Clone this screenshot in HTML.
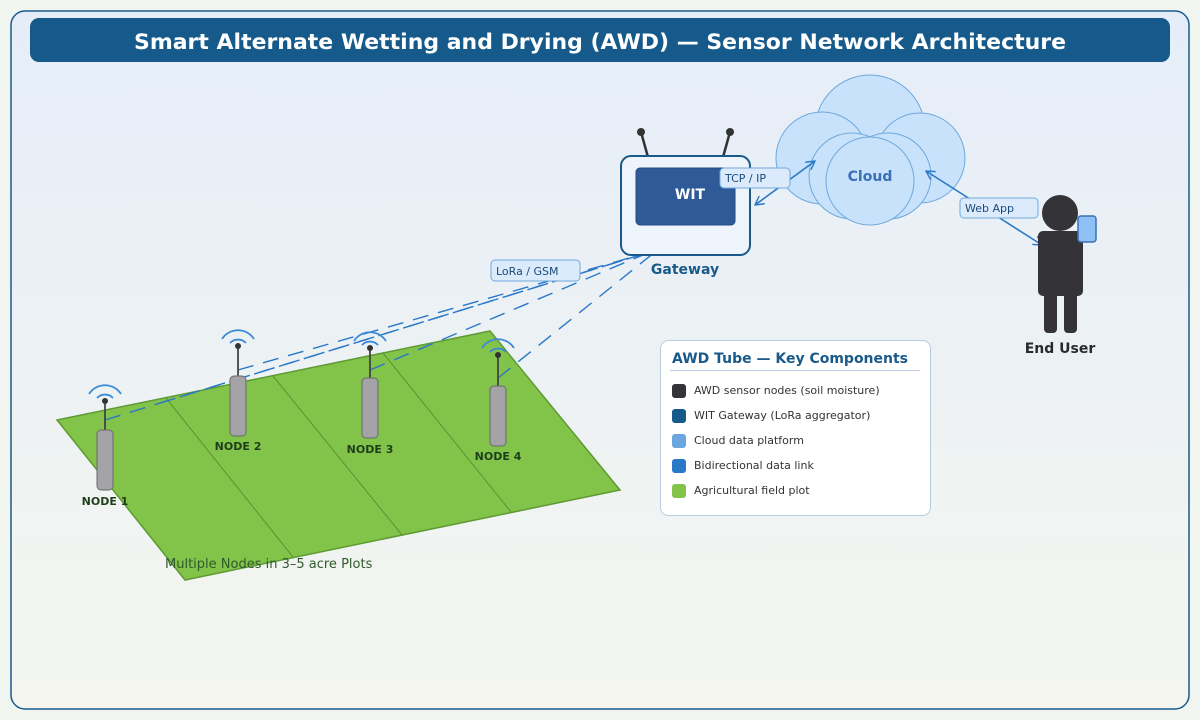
<!DOCTYPE html>
<html><head><meta charset="utf-8"><style>
html,body{margin:0;padding:0;width:1200px;height:720px;overflow:hidden;background:#f1f5f0}
svg{display:block;font-family:"DejaVu Sans","Liberation Sans",sans-serif}
</style></head><body>
<svg width="1200" height="720" viewBox="0 0 1200 720" xmlns="http://www.w3.org/2000/svg">
<defs>
<linearGradient id="bg" x1="0" y1="0" x2="0" y2="1"><stop offset="0" stop-color="#e5edf9"/><stop offset="1" stop-color="#f4f6ef"/></linearGradient>
<marker id="ar" markerWidth="10" markerHeight="10" refX="9" refY="5" orient="auto-start-reverse" markerUnits="userSpaceOnUse"><path d="M0,0 L9,5 L0,10" fill="none" stroke="#2a78c8" stroke-width="1.4"/></marker>
</defs>
<rect x="0" y="0" width="1200" height="720" fill="#f1f5f0"/>
<rect x="11" y="11" width="1178" height="698" rx="14" fill="url(#bg)" stroke="#1a5a8a" stroke-width="1.5"/>
<rect x="30" y="18" width="1140" height="44" rx="9" fill="#155a8a"/>
<text x="600" y="49" text-anchor="middle" fill="#fff" font-size="21" font-weight="bold" textLength="932" lengthAdjust="spacingAndGlyphs">Smart Alternate Wetting and Drying (AWD) — Sensor Network Architecture</text>

<polygon points="57,420 490,331 620,490 185,580" fill="#82c34a" stroke="#5f9a33" stroke-width="1.5"/>
<g stroke="#4f7f2a" stroke-width="0.7"><line x1="166" y1="398" x2="293" y2="557"/><line x1="273" y1="376" x2="402" y2="535"/><line x1="383" y1="353" x2="511" y2="512"/></g>
<text x="165" y="568" font-size="13" fill="#2f5a2a">Multiple Nodes in 3–5 acre Plots</text>

<g stroke="#2a78c8" stroke-width="1.4" stroke-dasharray="16,10" fill="none">
<line x1="105" y1="420" x2="650" y2="252"/>
<line x1="160" y1="403" x2="650" y2="252"/>
<line x1="238" y1="370" x2="650" y2="252"/>
<line x1="370" y1="370" x2="650" y2="252"/>
<line x1="498" y1="378" x2="655" y2="252"/>
</g>
<line x1="656" y1="237" x2="675" y2="249" stroke="#2a78c8" stroke-width="1.4" marker-end="url(#ar)"/>

<g stroke="#444" stroke-width="1.8"><line x1="105" y1="401" x2="105" y2="432"/><line x1="238" y1="346" x2="238" y2="378"/><line x1="370" y1="348" x2="370" y2="380"/><line x1="498" y1="355" x2="498" y2="388"/></g>
<g fill="#a3a3a8" stroke="#6a6a6a" stroke-width="1"><rect x="97" y="430" width="16" height="60" rx="4"/><rect x="230" y="376" width="16" height="60" rx="4"/><rect x="362" y="378" width="16" height="60" rx="4"/><rect x="490" y="386" width="16" height="60" rx="4"/></g>
<g fill="#333"><circle cx="105" cy="401" r="3"/><circle cx="238" cy="346" r="3"/><circle cx="370" cy="348" r="3"/><circle cx="498" cy="355" r="3"/></g>
<g fill="none" stroke="#3b8ad8" stroke-width="1.8">
<path d="M97,398 A11,11 0 0 1 113,398 M89,394 A19,19 0 0 1 121,394"/>
<path d="M230,343 A11,11 0 0 1 246,343 M222,339 A19,19 0 0 1 254,339"/>
<path d="M362,345 A11,11 0 0 1 378,345 M354,341 A19,19 0 0 1 386,341"/>
<path d="M490,352 A11,11 0 0 1 506,352 M482,348 A19,19 0 0 1 514,348"/>
</g>
<g font-size="11" font-weight="bold" fill="#1f3f1a" text-anchor="middle"><text x="105" y="505">NODE 1</text><text x="238" y="450">NODE 2</text><text x="370" y="453">NODE 3</text><text x="498" y="460">NODE 4</text></g>

<g stroke="#333" stroke-width="2.5"><line x1="651" y1="168" x2="641" y2="132"/><line x1="720" y1="168" x2="730" y2="132"/></g>
<circle cx="641" cy="132" r="4" fill="#333"/><circle cx="730" cy="132" r="4" fill="#333"/>
<rect x="621" y="156" width="129" height="99" rx="10" fill="#eef4fb" stroke="#1a5a8a" stroke-width="2"/>
<rect x="636" y="168" width="99" height="57" rx="4" fill="#2f5a97" stroke="#254a80"/>
<text x="690" y="199" text-anchor="middle" fill="#fff" font-size="14" font-weight="bold">WIT</text>
<text x="685" y="274" text-anchor="middle" fill="#1a5a8a" font-size="14" font-weight="bold">Gateway</text>

<g fill="#c8e2fb" stroke="#6fa8dc" stroke-width="1">
<circle cx="870" cy="130" r="55"/><circle cx="822" cy="158" r="46"/><circle cx="920" cy="158" r="45"/><circle cx="852" cy="176" r="43"/><circle cx="888" cy="176" r="43"/><circle cx="870" cy="181" r="44"/>
</g>
<text x="870" y="181" text-anchor="middle" fill="#3a6fb5" font-size="14" font-weight="bold">Cloud</text>

<line x1="755" y1="205" x2="815" y2="161" stroke="#2a78c8" stroke-width="1.6" marker-start="url(#ar)" marker-end="url(#ar)"/>
<rect x="720" y="168" width="70" height="20" rx="4" fill="#dcebfc" stroke="#6fa8dc"/>
<text x="725" y="182" font-size="11" fill="#1a4a7a">TCP / IP</text>

<line x1="926" y1="171" x2="1042" y2="245" stroke="#2a78c8" stroke-width="1.6" marker-start="url(#ar)" marker-end="url(#ar)"/>
<rect x="960" y="198" width="78" height="20" rx="4" fill="#dcebfc" stroke="#6fa8dc"/>
<text x="965" y="212" font-size="11" fill="#1a4a7a">Web App</text>

<circle cx="1060" cy="213" r="18" fill="#333338"/>
<rect x="1038" y="231" width="45" height="65" rx="5" fill="#333338"/>
<rect x="1044" y="292" width="13" height="41" rx="4" fill="#333338"/>
<rect x="1064" y="292" width="13" height="41" rx="4" fill="#333338"/>
<rect x="1078" y="216" width="18" height="26" rx="3" fill="#8fc0f5" stroke="#3a6fb5" stroke-width="1.5"/>
<text x="1060" y="353" text-anchor="middle" fill="#2a2a2a" font-size="14" font-weight="bold">End User</text>

<rect x="491" y="260" width="89" height="21" rx="4" fill="#dcebfc" stroke="#6fa8dc"/>
<text x="496" y="275" font-size="11" fill="#1a4a7a">LoRa / GSM</text>

<rect x="660.5" y="340.5" width="270" height="175" rx="8" fill="#fff" stroke="#b8cde0"/>
<text x="672" y="363" font-size="14" font-weight="bold" fill="#1a5a8a" textLength="236" lengthAdjust="spacingAndGlyphs">AWD Tube — Key Components</text>
<line x1="670" y1="370.5" x2="920" y2="370.5" stroke="#b8cde0"/>
<g font-size="11" fill="#333">
<rect x="672" y="384" width="14" height="14" rx="3" fill="#333338"/><text x="694" y="394">AWD sensor nodes (soil moisture)</text>
<rect x="672" y="409" width="14" height="14" rx="3" fill="#155a8a"/><text x="694" y="419">WIT Gateway (LoRa aggregator)</text>
<rect x="672" y="434" width="14" height="14" rx="3" fill="#6aa6e0"/><text x="694" y="444">Cloud data platform</text>
<rect x="672" y="459" width="14" height="14" rx="3" fill="#2a78c8"/><text x="694" y="469">Bidirectional data link</text>
<rect x="672" y="484" width="14" height="14" rx="3" fill="#82c34a"/><text x="694" y="494">Agricultural field plot</text>
</g>
</svg>
</body></html>
